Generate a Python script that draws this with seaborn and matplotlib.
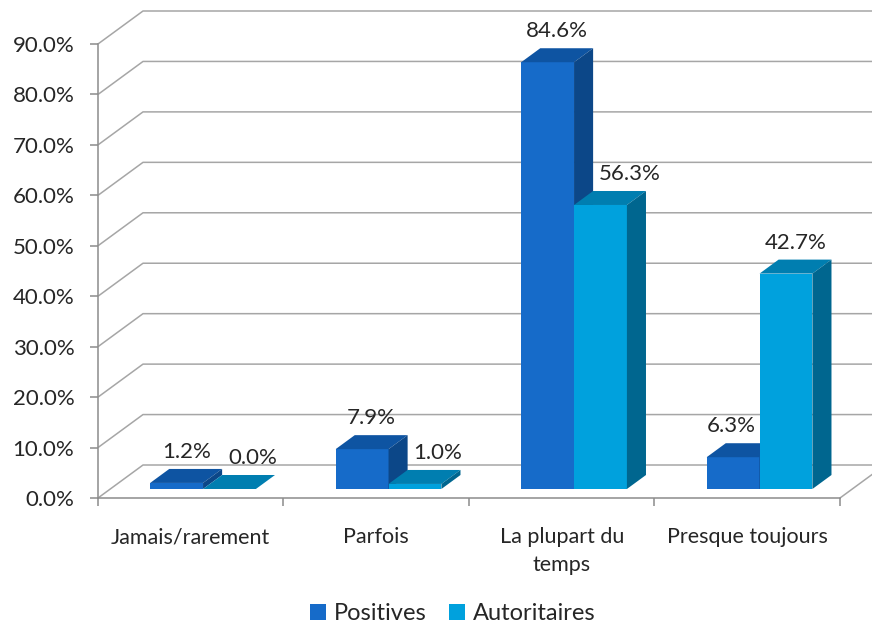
import matplotlib
matplotlib.use("Agg")
import matplotlib.pyplot as plt
from matplotlib.patches import Polygon
from matplotlib.ticker import FuncFormatter, FixedLocator
import numpy as np
import pandas as pd
import seaborn as sns

# ---- data -------------------------------------------------------------
categories = ["Jamais/rarement", "Parfois", "La plupart du\ntemps", "Presque toujours"]
series_names = ["Positives", "Autoritaires"]
positives = [1.2, 7.9, 84.6, 6.3]
autoritaires = [0.0, 1.0, 56.3, 42.7]
y_ticks = [0, 10, 20, 30, 40, 50, 60, 70, 80, 90]

df = pd.DataFrame({
    "categorie": categories * 2,
    "serie": [series_names[0]] * 4 + [series_names[1]] * 4,
    "valeur": positives + autoritaires,
})
values = [positives, autoritaires]

# ---- style ------------------------------------------------------------
sns.set_theme(style="white")
plt.rcParams["font.family"] = ["Lato", "DejaVu Sans"]
text_col = "#262626"
grid_col = "#A6A6A6"
axis_col = "#8C8C8C"

front_cols = ["#166BC9", "#00A1DD"]
top_cols = ["#0E54A2", "#007EB0"]
side_cols = ["#0C4788", "#00668F"]

# oblique depth of the floor / back wall (x in category units, y in %)
DX, DY = 0.2426, 6.54
# bars sit part-way into the floor and have their own depth
f0, f1 = 0.273, 0.424
dx0, dy0 = DX * f0, DY * f0
ddx, ddy = DX * f1, DY * f1
px_x = 1 / 185.5  # one pixel in category units

fig = plt.figure(figsize=(8.72, 6.27), dpi=100)
ax = fig.add_axes([98 / 872, (627 - 498) / 627, 787 / 872, 487 / 627])
ax.set_facecolor("none")

sns.barplot(data=df, x="categorie", y="valeur", hue="serie",
            palette=front_cols, saturation=1, width=0.57, dodge=True,
            linewidth=0, ax=ax)
handles, labels = ax.get_legend_handles_labels()
if ax.get_legend() is not None:
    ax.get_legend().remove()

# back wall gridlines with their diagonal returns to the front axis
xmax = 3.5 + DX
for v in y_ticks:
    ax.plot([-0.5, -0.5 + DX, xmax + 0.5], [v, v + DY, v + DY],
            color=grid_col, lw=1.1, zorder=0.5, clip_on=False,
            solid_capstyle="butt")
ax.plot([3.5, 3.5 + DX], [0, DY], color=grid_col, lw=1.1, zorder=0.5,
        clip_on=False)

# turn the flat bars into oblique boxes and label each one
prev = {}
for j, cont in enumerate(ax.containers):
    for i, rect in enumerate(cont.patches):
        h = rect.get_height()
        x0 = rect.get_x() + dx0
        w = rect.get_width()
        rect.set_x(x0)
        rect.set_y(dy0)
        rect.set_zorder(2 + j)
        yb, yt = dy0, dy0 + h
        top = Polygon([(x0, yt), (x0 + w, yt), (x0 + w + ddx, yt + ddy),
                       (x0 + ddx, yt + ddy)], closed=True,
                      facecolor=top_cols[j], edgecolor="none",
                      zorder=2.1 + j)
        side = Polygon([(x0 + w, yb), (x0 + w + ddx, yb + ddy),
                        (x0 + w + ddx, yt + ddy), (x0 + w, yt)], closed=True,
                       facecolor=side_cols[j], edgecolor="none",
                       zorder=2.1 + j)
        ax.add_patch(top)
        ax.add_patch(side)

        lx, ha = x0 + w / 2 + ddx / 2, "center"
        # keep labels clear of a taller neighbouring bar
        if j > 0 and prev.get(i, (0, 0))[0] > h:
            lx, ha = prev[i][1] + 6 * px_x, "left"
        elif j == 0 and values[1][i] > h:
            lx, ha = x0 + w - 4 * px_x, "right"
        ax.annotate(f"{h:.1f}%", (lx, yt + ddy),
                    xytext=(0, 5), textcoords="offset points",
                    ha=ha, va="bottom", fontsize=16,
                    color=text_col, zorder=10)
        prev[i] = (h, x0 + w + ddx)

# axes
ax.set_xlim(-0.5, xmax)
ax.set_ylim(0, 90 + DY)
ax.set_xlabel("")
ax.set_ylabel("")
for s in ["top", "right"]:
    ax.spines[s].set_visible(False)
for s in ["left", "bottom"]:
    ax.spines[s].set_color(axis_col)
    ax.spines[s].set_linewidth(1.1)
ax.spines["left"].set_bounds(0, 90)
ax.spines["bottom"].set_bounds(-0.5, 3.5)

ax.set_yticks(y_ticks)
ax.yaxis.set_major_formatter(FuncFormatter(lambda v, p: f"{v:.1f}%"))
ax.tick_params(axis="y", which="major", length=6, width=1.1,
               color=axis_col, pad=11, labelsize=16, labelcolor=text_col,
               left=True)

ax.set_xticks(range(len(categories)))
ax.set_xticklabels(categories)
ax.xaxis.set_minor_locator(FixedLocator([-0.5, 0.5, 1.5, 2.5, 3.5]))
ax.tick_params(axis="x", which="major", length=0, pad=21, labelsize=15.5,
               labelcolor=text_col)
ax.tick_params(axis="x", which="minor", length=6, width=1.1,
               color=axis_col, bottom=True)
for lbl in ax.get_xticklabels():
    lbl.set_linespacing(1.5)

fig.legend(handles, labels, loc="center",
           bbox_to_anchor=(453 / 872, 1 - 614 / 627), ncol=2, frameon=False,
           fontsize=17, handlelength=0.65, handleheight=0.65,
           handletextpad=0.35, columnspacing=0.95, labelcolor=text_col)

fig.savefig("out.png", dpi=100, facecolor="white")
